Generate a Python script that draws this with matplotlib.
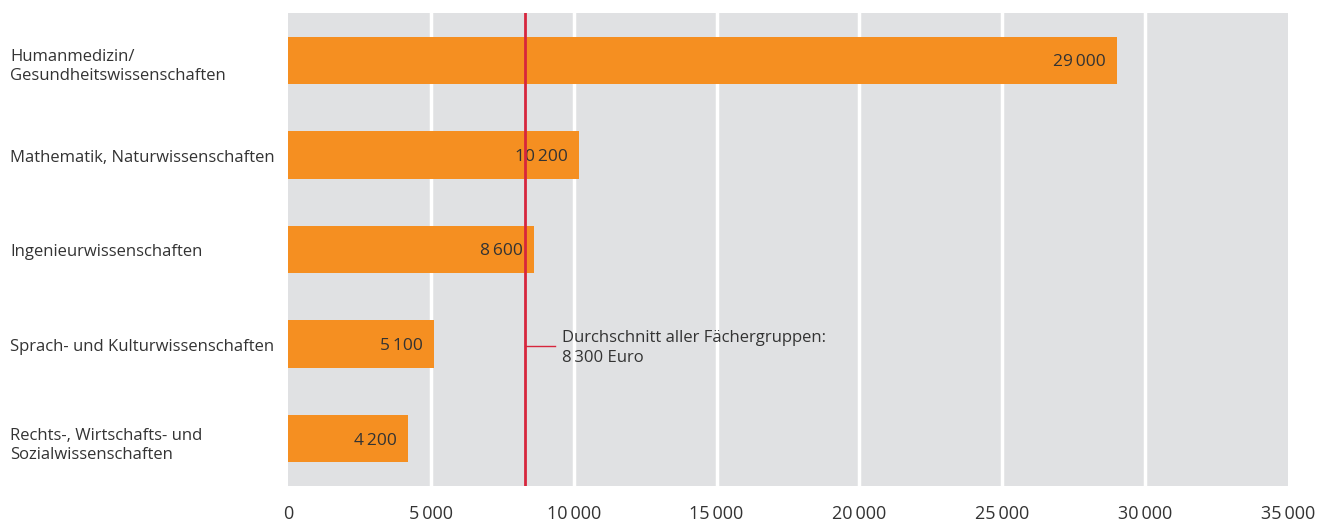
import matplotlib.pyplot as plt
import matplotlib.transforms as mtransforms

# Daten
kategorien = ["Humanmedizin/\nGesundheitswissenschaften",
              "Mathematik, Naturwissenschaften",
              "Ingenieurwissenschaften",
              "Sprach- und Kulturwissenschaften",
              "Rechts-, Wirtschafts- und\nSozialwissenschaften"]
werte = [29000, 10200, 8600, 5100, 4200]
durchschnitt = 8300
xticks = [0, 5000, 10000, 15000, 20000, 25000, 30000, 35000]

def fmt(v):
    s = "{:,}".format(v).replace(",", "\u2009")
    return s

plt.rcParams['font.family'] = ['Open Sans', 'DejaVu Sans']
textfarbe = '#333333'

fig = plt.figure(figsize=(13.2, 5.24), dpi=100)
ax = fig.add_axes([288/1320, 1-486/524, 1000/1320, 473/524])
ax.set_facecolor('#e0e1e3')

ypos = list(range(len(kategorien)))
ax.barh(ypos, werte, height=0.5, color='#f58f21', zorder=3)
for y, v in zip(ypos, werte):
    ax.text(v - 390, y + 0.02, fmt(v), ha='right', va='center', fontsize=12.5,
            color=textfarbe, zorder=4)

ax.set_xlim(0, 35000)
ax.set_ylim(len(kategorien) - 0.5, -0.5)
for x in xticks[1:-1]:
    ax.axvline(x, color='white', lw=2.5, zorder=1)

ax.axvline(durchschnitt, color='#d7263d', lw=2, zorder=5)
ax.plot([durchschnitt, durchschnitt + 1050], [3.02, 3.02], color='#d7263d', lw=1, zorder=5)
ax.text(durchschnitt + 1300, 3.04, "Durchschnitt aller Fächergruppen:\n8\u2009300 Euro",
        ha='left', va='center', fontsize=12, color=textfarbe, linespacing=1.3, zorder=5)

trans = mtransforms.blended_transform_factory(fig.transFigure, ax.transData)
for y, k in zip(ypos, kategorien):
    dy = 0.07 if "\n" in k else 0.03
    ax.text(10/1320, y + dy, k, transform=trans, ha='left', va='center', fontsize=12,
            color=textfarbe, linespacing=1.25)

ax.set_yticks([])
ax.set_xticks(xticks)
ax.set_xticklabels([fmt(x) for x in xticks], fontsize=13, color=textfarbe)
ax.tick_params(axis='x', length=0, pad=14)
for s in ax.spines.values():
    s.set_visible(False)

fig.savefig('out.png', dpi=100)
